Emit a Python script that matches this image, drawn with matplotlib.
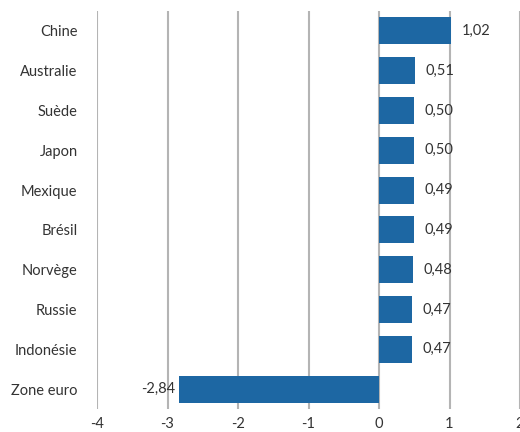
import numpy as np
import matplotlib
matplotlib.use("Agg")
import matplotlib.pyplot as plt

plt.rcParams['font.family'] = ['Lato', 'DejaVu Sans']

pays = ['Chine', 'Australie', 'Suède', 'Japon', 'Mexique', 'Brésil',
        'Norvège', 'Russie', 'Indonésie', 'Zone euro']
valeurs = [1.02, 0.51, 0.50, 0.50, 0.49, 0.49, 0.48, 0.47, 0.47, -2.84]
ticks_x = [-4, -3, -2, -1, 0, 1, 2]

fig = plt.figure(figsize=(5.2, 4.32), dpi=100)
ax = fig.add_axes([97/520, 23/432, 1 - 97/520, 1 - 34/432])

y = np.arange(len(pays))
ax.barh(y, valeurs, height=0.68, color='#1d67a3', zorder=3)

# étiquettes de valeur, virgule décimale
for yi, v in zip(y, valeurs):
    txt = f"{v:.2f}".replace('.', ',')
    if v >= 0:
        ax.text(v + 0.15, yi, txt, va='center', ha='left', fontsize=10.5, color='#333333')
    else:
        ax.text(v - 0.05, yi, txt, va='center', ha='right', fontsize=10.5, color='#333333')

ax.set_xlim(-4, 2)
ax.set_ylim(len(pays) - 0.5, -0.5)
ax.set_xticks(ticks_x)
ax.set_xticklabels([str(t) for t in ticks_x])
ax.set_yticks(y)
ax.set_yticklabels(pays)
ax.tick_params(axis='both', length=0, labelsize=10.5, colors='#333333')
ax.tick_params(axis='y', pad=14)
ax.tick_params(axis='x', pad=6)
ax.grid(axis='x', color='#b4b4b4', linewidth=1.5, zorder=0)
for s in ax.spines.values():
    s.set_visible(False)

fig.savefig('out.png', dpi=100)
